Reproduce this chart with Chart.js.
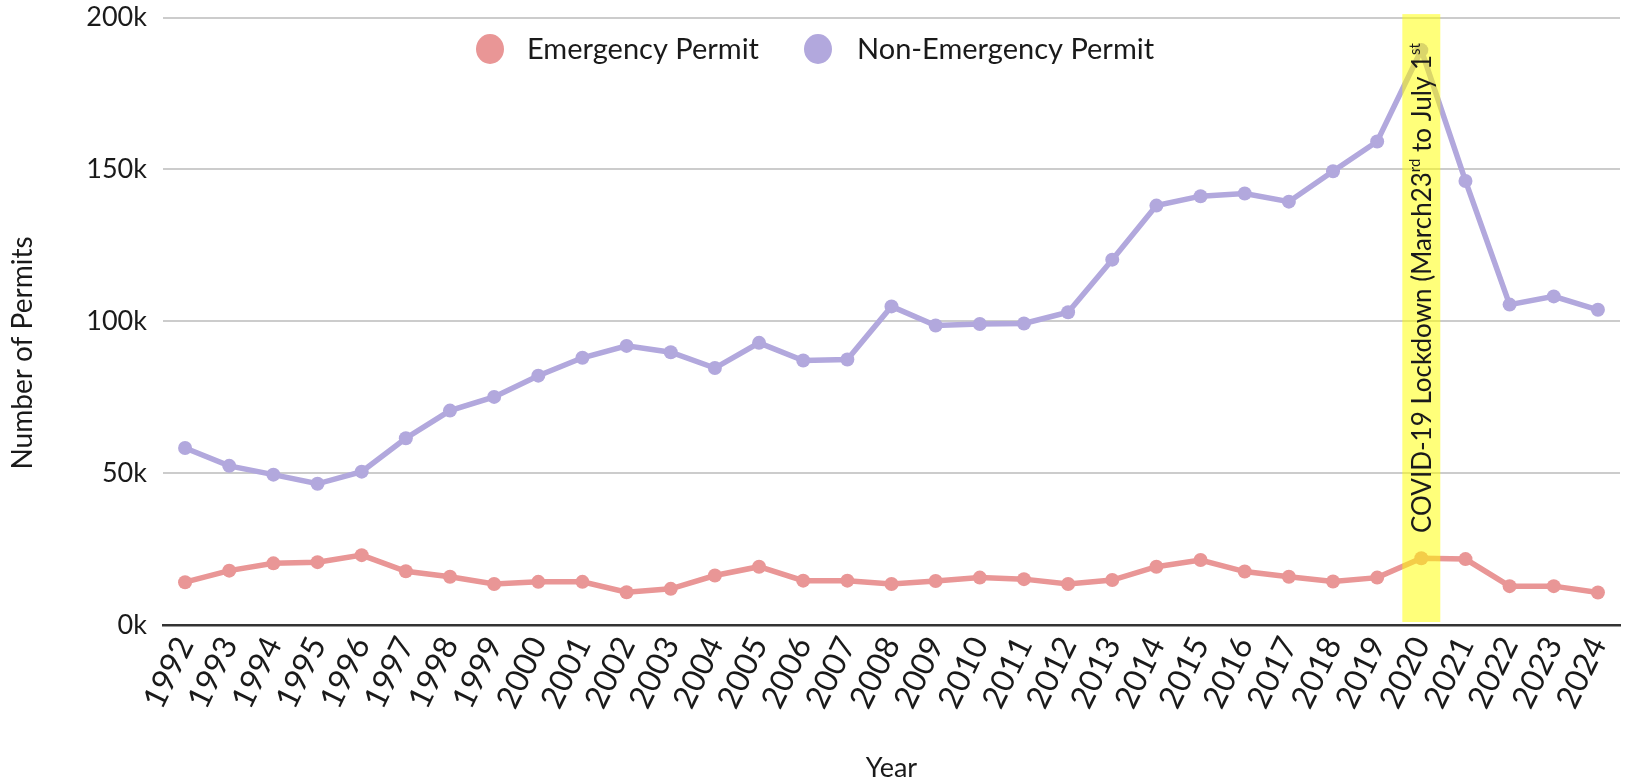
<!DOCTYPE html>
<html>
<head>
<meta charset="utf-8">
<script src="https://cdn.jsdelivr.net/npm/chart.js@4.4.1/dist/chart.umd.min.js"></script>
<style>
html,body{margin:0;padding:0;background:#fff;}
#wrap{width:1627px;height:782px;position:relative;}
</style>
</head>
<body>
<div id="wrap"><canvas id="c" width="1627" height="782"></canvas></div>
<script>
const years = ['1992','1993','1994','1995','1996','1997','1998','1999','2000','2001','2002','2003','2004','2005','2006','2007','2008','2009','2010','2011','2012','2013','2014','2015','2016','2017','2018','2019','2020','2021','2022','2023','2024'];
const emergency = [14100,17900,20300,20700,23000,17700,15900,13500,14200,14200,10800,11900,16300,19200,14600,14600,13500,14500,15600,15100,13500,14800,19200,21400,17600,15900,14300,15600,22000,21700,12800,12800,10700];
const nonEmergency = [58300,52400,49500,46500,50500,61500,70600,75100,82100,88000,91900,89800,84600,92900,87100,87400,104900,98600,99100,99300,103000,120300,138100,141200,142100,139400,149400,159200,189300,146200,105500,108200,103800];
const yTicks = [0,50000,100000,150000,200000];
const seriesNames = ['Emergency Permit','Non-Emergency Permit'];
const covidYear = '2020';
const covidParts = [['COVID-19 Lockdown (March23',false],['rd',true],[' to July 1',false],['st',true]];
const xTitle = 'Year';
const yTitle = 'Number of Permits';

const FONT = 'Lato';
const C_EMER = 'rgb(233,150,150)';
const C_NON = 'rgb(178,168,221)';

const overlay = {
  id: 'overlay',
  afterDatasetsDraw(chart) {
    const {ctx, chartArea, scales} = chart;
    const x = scales.x;
    const idx = years.indexOf(covidYear);
    const cx = x.getPixelForValue(idx);
    const step = x.getPixelForValue(1) - x.getPixelForValue(0);
    const half = step * 0.43;
    const top = chartArea.top - 3.5, bot = chartArea.bottom - 3;
    ctx.save();
    ctx.fillStyle = 'rgba(255,255,0,0.52)';
    ctx.fillRect(cx - half, top, 2 * half, bot - top);
    ctx.translate(cx + 1, chartArea.bottom - 92);
    ctx.rotate(-Math.PI / 2);
    ctx.fillStyle = '#1a1a1a';
    ctx.textBaseline = 'middle';
    ctx.textAlign = 'left';
    let px = 0;
    for (const [t, sup] of covidParts) {
      ctx.font = (sup ? '15px ' : '26px ') + FONT;
      ctx.fillText(t, px, sup ? -7 : 0);
      px += ctx.measureText(t).width;
    }
    ctx.restore();
  },
  afterDraw(chart) {
    const {ctx, chartArea} = chart;
    ctx.save();
    const items = [
      {cx: chartArea.left + 327, tx: chartArea.left + 364, color: C_EMER, label: seriesNames[0]},
      {cx: chartArea.left + 655, tx: chartArea.left + 694, color: C_NON, label: seriesNames[1]}
    ];
    const ly = 49;
    ctx.font = '29px ' + FONT;
    ctx.textBaseline = 'middle';
    ctx.textAlign = 'left';
    for (const it of items) {
      ctx.fillStyle = it.color;
      ctx.beginPath();
      ctx.ellipse(it.cx, ly, 14, 15, 0, 0, Math.PI * 2);
      ctx.fill();
      ctx.fillStyle = '#1a1a1a';
      ctx.fillText(it.label, it.tx, ly + 1);
    }
    ctx.translate(23, 353);
    ctx.rotate(-Math.PI / 2);
    ctx.textAlign = 'center';
    ctx.font = '28px ' + FONT;
    ctx.fillStyle = '#1a1a1a';
    ctx.fillText(yTitle, 0, 0);
    ctx.restore();
  }
};

new Chart(document.getElementById('c'), {
  type: 'line',
  data: {
    labels: years,
    datasets: [
      {label: seriesNames[0], data: emergency, borderColor: C_EMER, backgroundColor: C_EMER,
       borderWidth: 5.5, pointRadius: 7, pointBorderWidth: 0, tension: 0, order: 2},
      {label: seriesNames[1], data: nonEmergency, borderColor: C_NON, backgroundColor: C_NON,
       borderWidth: 5.5, pointRadius: 7, pointBorderWidth: 0, tension: 0, order: 1}
    ]
  },
  options: {
    responsive: false,
    animation: false,
    layout: {padding: {left: 0, right: 5, top: 17.6, bottom: 0}},
    plugins: {legend: {display: false}, tooltip: {enabled: false}},
    scales: {
      x: {
        offset: true,
        grid: {display: false, drawTicks: false},
        border: {display: true, color: '#333', width: 2.5},
        ticks: {autoSkip: false, maxRotation: 64, minRotation: 64, padding: 6,
                color: '#1a1a1a', font: {family: FONT, size: 32}},
        title: {display: true, text: xTitle, color: '#1a1a1a', padding: {top: 0, bottom: 0},
                font: {family: FONT, size: 27, lineHeight: 1}},
        afterFit(s) { s.height = 157; s.paddingLeft = 0; s.paddingRight = 0; }
      },
      y: {
        min: 0, max: 200000,
        afterBuildTicks(s) { s.ticks = yTicks.map(v => ({value: v})); },
        grid: {color: '#cccccc', lineWidth: 2, drawTicks: false},
        border: {display: false},
        ticks: {padding: 16, color: '#1a1a1a', font: {family: FONT, size: 27},
                callback: v => (v / 1000) + 'k'},
        afterFit(s) { s.width = 163; s.paddingTop = 0; s.paddingBottom = 0; }
      }
    }
  },
  plugins: [overlay]
});
</script>
</body>
</html>
